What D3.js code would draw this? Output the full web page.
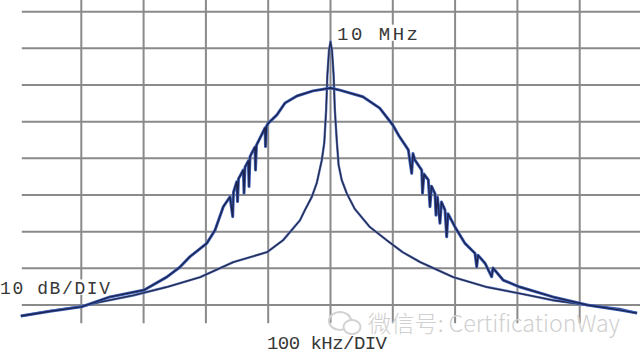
<!DOCTYPE html>
<html>
<head>
<meta charset="utf-8">
<script src="https://cdn.jsdelivr.net/npm/d3@7"></script>
<style>
  html, body { margin: 0; padding: 0; background: #fff; }
  svg { display: block; }
  .lbl { font-family: "Courier New", "Liberation Mono", monospace; fill: #383838; }
</style>
</head>
<body>
<div id="chart"></div>
<script>
// 频率偏移 (kHz)，相对于 10 MHz 中心；电平 (dB)，顶格线为 0 dB
const xTicks = [-400, -300, -200, -100, 0, 100, 200, 300, 400];
const yTicks = [0, -10, -20, -30, -40, -50, -60, -70, -80];

// 展频后的宽谱 (含向下的毛刺)
const spreadKHz = [-497, -450, -400, -354, -299, -263, -242, -225.5, -198.7, -185.4, -172.1, -161.3,
  -157.0, -155.7, -150.5, -149.2, -147.7, -140.0, -138.8, -137.2, -131.9, -130.8, -129.2, -126.5,
  -121.2, -120.4, -118.8, -113.2, -105.1, -104.3, -102.7, -99.8, -86.3, -73, -54, -28, 0,
  15, 52, 79, 100, 110, 124.9, 130.3, 132.4, 135.6, 146.4, 147.7, 150.1, 157.0, 159.7, 162.1,
  167.7, 169.3, 171.7, 175.7, 178.2, 183.8, 186.5, 188.6, 199.8, 215.9, 231.9, 234.7, 236.7,
  248.0, 258.7, 260.8, 277, 304, 357, 412, 465, 492];
const spreadDb = [-83.0, -81.7, -80.5, -77.8, -75.9, -72.4, -69.7, -66.8, -63.2, -59.6, -53.2, -50.5,
  -55.9, -49.2, -46.4, -51.8, -45.6, -43.2, -49.5, -42.4, -40.7, -47.7, -39.6, -38.6,
  -36.9, -43.2, -36.4, -34.5, -31.7, -36.8, -31.2, -30.4, -28.2, -24.9, -23.0, -21.6, -20.8,
  -21.4, -23.2, -26.3, -30.9, -33.9, -37.7, -44.1, -38.7, -40.5, -43.2, -49.5, -44.3, -45.9, -53.2, -47.6,
  -49.6, -55.5, -50.6, -57.7, -51.9, -54.1, -61.4, -55.1, -58.7, -63.2, -65.9, -69.6, -66.4,
  -68.6, -72.3, -69.9, -73.2, -75.1, -77.8, -80.0, -81.4, -82.2];

// 未展频的 10 MHz 载波
const carrierKHz = [-497, -450, -400, -370, -317, -263, -209, -156, -102, -76, -49, -41, -30, -22, -14,
  -10, -7, -5, -2.4, 0, 2.4, 5, 7, 10, 13, 18, 26, 39, 63, 90, 116, 144, 197, 251, 305, 357, 412, 465, 492];
const carrierDb = [-83.0, -81.6, -80.4, -79.2, -77.4, -75.1, -72.4, -68.3, -65.6, -62.3, -56.9, -54.1, -50.5, -46.7, -40.5,
  -35.8, -26.8, -17.3, -10.5, -8.2, -10.5, -17.3, -26.8, -35.0, -41.8, -45.9, -49.5, -53.8, -58.7, -62.3, -65.6, -68.3, -72.4, -75.1, -76.9, -78.7, -80.0, -81.1, -82.2];

const width = 640, height = 354;

const svg = d3.select("#chart")
  .append("svg")
    .attr("width", width)
    .attr("height", height);

// 每格 100 kHz 约 62.3 px，每格 10 dB 约 36.65 px
const x = d3.scaleLinear().domain([-500, 500]).range([19, 642]);
const y = d3.scaleLinear().domain([0, -80]).range([11.7, 305]);

// 网格
const grid = svg.append("g").attr("stroke", "#8a8a8a").attr("stroke-width", 2);
grid.selectAll("line.h")
  .data(yTicks)
  .enter().append("line")
    .attr("class", "h")
    .attr("x1", x(-495.5)).attr("x2", width)
    .attr("y1", d => y(d)).attr("y2", d => y(d));
grid.selectAll("line.v")
  .data(xTicks)
  .enter().append("line")
    .attr("class", "v")
    .attr("x1", d => x(d)).attr("x2", d => x(d))
    .attr("y1", 0).attr("y2", y(-85));

// 迹线
const line = d3.line().x(d => x(d[0])).y(d => y(d[1]));
const spread = d3.zip(spreadKHz, spreadDb);
const carrier = d3.zip(carrierKHz, carrierDb);

svg.append("path").datum(carrier).attr("d", line)
  .attr("fill", "none").attr("stroke", "#5a78c4").attr("stroke-width", 2.4).attr("stroke-linejoin", "round");
svg.append("path").datum(carrier).attr("d", line)
  .attr("fill", "none").attr("stroke", "#262b4c").attr("stroke-width", 1.3).attr("stroke-linejoin", "round");

svg.append("path").datum(spread).attr("d", line)
  .attr("fill", "none").attr("stroke", "#3f64ba").attr("stroke-width", 3).attr("stroke-linejoin", "round");
svg.append("path").datum(spread).attr("d", line)
  .attr("fill", "none").attr("stroke", "#1e2350").attr("stroke-width", 1.4).attr("stroke-linejoin", "round");

// 标注
function label(txt, lx, ly, size, len, box) {
  if (box) {
    svg.append("rect")
      .attr("x", lx - 1).attr("y", ly - size * 0.78)
      .attr("width", len + 2).attr("height", size * 0.85)
      .attr("fill", "#fff");
  }
  svg.append("text")
    .attr("class", "lbl")
    .attr("x", lx).attr("y", ly)
    .attr("font-size", size)
    .attr("textLength", len)
    .attr("lengthAdjust", "spacing")
    .text(txt);
}
label("10 MHz", 337, 39.5, 19, 81, true);
label("10 dB/DIV", 0, 293.5, 18, 110, true);
label("100 kHz/DIV", 267, 349, 19, 120, false);

// 水印
const wm = svg.append("g").attr("fill", "none").attr("stroke", "#d2d2d2").attr("stroke-width", 2);
wm.append("ellipse").attr("cx", 340).attr("cy", 321).attr("rx", 11).attr("ry", 9);
wm.append("ellipse").attr("cx", 352).attr("cy", 327).attr("rx", 8.5).attr("ry", 7).attr("fill", "#fff");
svg.append("text")
  .attr("x", 368).attr("y", 332)
  .attr("font-family", "'Noto Sans CJK SC', 'Noto Sans', sans-serif")
  .attr("font-weight", 300)
  .attr("font-size", 23)
  .attr("fill", "#d0d0d0")
  .attr("textLength", 252)
  .attr("lengthAdjust", "spacingAndGlyphs")
  .text("微信号: CertificationWay");
</script>
</body>
</html>
